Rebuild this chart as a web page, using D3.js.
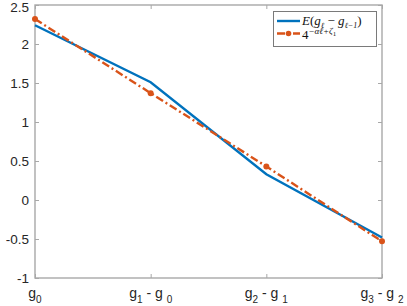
<!DOCTYPE html>
<html><head><meta charset="utf-8">
<script src="https://cdn.jsdelivr.net/npm/d3@7"></script>
<style>body{margin:0;background:#fff}svg{display:block}</style>
</head><body>
<script>
const categories = ["g0", "g1-g0", "g2-g1", "g3-g2"];
const xLabels = [["0"], ["1","0"], ["2","1"], ["3","2"]];
const blueValues = [2.24, 1.51, 0.33, -0.48];
const orangeValues = [2.32, 1.37, 0.43, -0.53];
const yTicks = [-1, -0.5, 0, 0.5, 1, 1.5, 2, 2.5];

const W = 407, H = 306;
const L = 35, R = 382, T = 5, B = 278;
const svg = d3.select("body").append("svg").attr("width", W).attr("height", H);

const x = d3.scalePoint().domain(categories).range([L, R]);
const y = d3.scaleLinear().domain([-1, 2.5]).range([B, T]);

const axisColor = "#a8a8a8";
const textColor = "#262626";

svg.append("rect").attr("x", L).attr("y", T).attr("width", R - L).attr("height", B - T)
  .attr("fill", "none").attr("stroke", axisColor).attr("stroke-width", 1.4);

const yAxisL = d3.axisLeft(y).tickValues(yTicks).tickSize(-4).tickPadding(6)
  .tickFormat(d => d3.format("")(d).replace("−","-"));
const gL = svg.append("g").attr("transform", `translate(${L},0)`).call(yAxisL);
gL.select(".domain").remove();
gL.selectAll(".tick line").attr("stroke", axisColor);
gL.selectAll(".tick text").attr("fill", textColor).attr("dy", d => d === 2.5 ? "0.48em" : "0.36em")
  .style("font-family", "'Liberation Sans', Arial, sans-serif").style("font-size", "13.5px");

const yAxisR = d3.axisRight(y).tickValues(yTicks).tickSize(-4).tickFormat("");
const gR = svg.append("g").attr("transform", `translate(${R},0)`).call(yAxisR);
gR.select(".domain").remove();
gR.selectAll(".tick line").attr("stroke", axisColor);

const xAxisB = d3.axisBottom(x).tickSize(-4).tickFormat("");
const gB = svg.append("g").attr("transform", `translate(0,${B})`).call(xAxisB);
gB.select(".domain").remove();
gB.selectAll(".tick line").attr("stroke", axisColor);
const xAxisT = d3.axisTop(x).tickSize(-4).tickFormat("");
const gT = svg.append("g").attr("transform", `translate(0,${T})`).call(xAxisT);
gT.select(".domain").remove();
gT.selectAll(".tick line").attr("stroke", axisColor);

categories.forEach((c, i) => {
  const t = svg.append("text").attr("x", x(c)).attr("y", 298).attr("text-anchor", "middle")
    .attr("fill", textColor).style("font-family", "'Liberation Sans', Arial, sans-serif").style("font-size", "14px");
  const subs = xLabels[i];
  t.append("tspan").text("g");
  t.append("tspan").attr("dy", 5).style("font-size", "10px").text(subs[0]);
  if (subs.length > 1) {
    t.append("tspan").attr("dy", -5).text(" - g ");
    t.append("tspan").attr("dy", 5).style("font-size", "10px").text(" " + subs[1]);
  }
});

const line = d3.line().x((d, i) => x(categories[i])).y(d => y(d));
svg.append("path").datum(blueValues).attr("d", line).attr("fill", "none")
  .attr("stroke", "#0072BD").attr("stroke-width", 2.4);
svg.append("path").datum(orangeValues).attr("d", line).attr("fill", "none")
  .attr("stroke", "#D95319").attr("stroke-width", 2.4).attr("stroke-dasharray", "8,3,2,3");
svg.selectAll(".mk").data(orangeValues).enter().append("circle")
  .attr("cx", (d, i) => x(categories[i])).attr("cy", d => y(d)).attr("r", 3).attr("fill", "#D95319");

const lg = svg.append("g");
lg.append("rect").attr("x", 273.5).attr("y", 11.5).attr("width", 103).attr("height", 35)
  .attr("fill", "#fff").attr("stroke", "#7a7a7a").attr("stroke-width", 1);
lg.append("line").attr("x1", 277).attr("x2", 300).attr("y1", 21).attr("y2", 21)
  .attr("stroke", "#0072BD").attr("stroke-width", 2.4);
lg.append("line").attr("x1", 277).attr("x2", 300).attr("y1", 33.5).attr("y2", 33.5)
  .attr("stroke", "#D95319").attr("stroke-width", 2.4).attr("stroke-dasharray", "8,3,2,3");
lg.append("circle").attr("cx", 288.5).attr("cy", 33.5).attr("r", 2.8).attr("fill", "#D95319");

const t1 = lg.append("text").attr("x", 302).attr("y", 25).attr("fill", "#111")
  .style("font-family", "'Liberation Serif', serif").style("font-size", "13px");
t1.append("tspan").style("font-style", "italic").text("E");
t1.append("tspan").text("(");
t1.append("tspan").style("font-style", "italic").text("g");
t1.append("tspan").attr("dy", 3).style("font-size", "8px").style("font-style", "italic").text("ℓ");
t1.append("tspan").attr("dy", -3).text(" − ");
t1.append("tspan").style("font-style", "italic").text("g");
t1.append("tspan").attr("dy", 3).style("font-size", "8px").style("font-style", "italic").text("ℓ−1");
t1.append("tspan").attr("dy", -3).text(")");

const t2 = lg.append("text").attr("x", 302).attr("y", 39).attr("fill", "#111")
  .style("font-family", "'Liberation Serif', serif").style("font-size", "13px");
t2.append("tspan").text("4");
t2.append("tspan").attr("dy", -5).style("font-size", "9px").style("font-style", "italic").text("−αℓ+ζ");
t2.append("tspan").attr("dy", 2).style("font-size", "7px").text("1");
</script>
</body></html>
